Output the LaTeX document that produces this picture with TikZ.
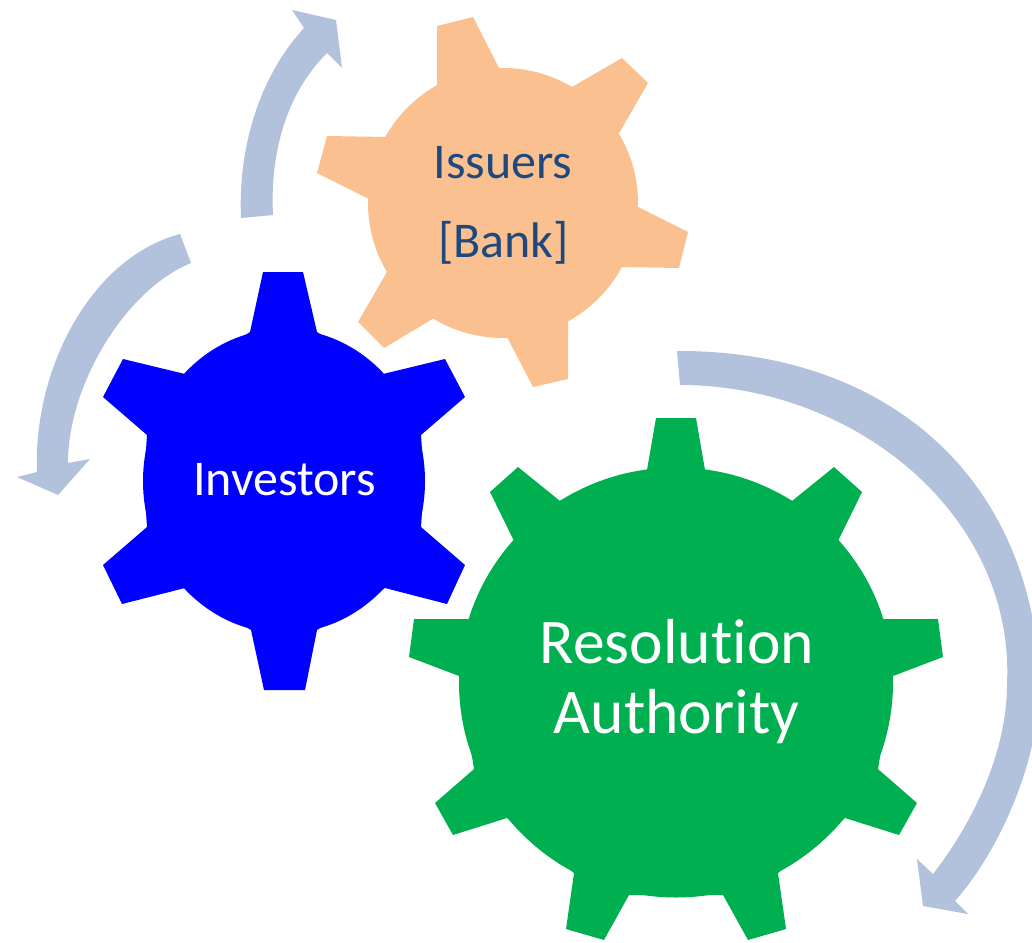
\documentclass[tikz,border=0pt]{standalone}
\usepackage{fontspec}
\setmainfont{Carlito}[Ligatures=NoCommon]
\definecolor{arrowblue}{HTML}{B3C2DC}
\definecolor{gearorange}{HTML}{FAC090}
\definecolor{gearblue}{HTML}{0000FF}
\definecolor{geargreen}{HTML}{00B050}
\definecolor{inktext}{HTML}{1F497D}
\tikzset{
  flow/.style={fill=arrowblue},
  label/.style={anchor=base,inner sep=0pt},
  small label/.style={label,font=\fontsize{25}{30}\selectfont},
  big label/.style={label,font=\fontsize{31.8}{38}\selectfont}
}
\begin{document}
\begin{tikzpicture}[x=0.5pt,y=-0.5pt]
\clip (0,0) rectangle (1032,942);
% rotating arrows
\fill[flow] (241,218) .. controls (238,150) and (258,78) .. (304,28)
  -- (292,10) -- (336,20) -- (342,68) -- (327,53)
  .. controls (285,95) and (270,155) .. (273,215) -- cycle;
\fill[flow] (180,234) .. controls (90,258) and (33,370) .. (37,472)
  -- (17,477) -- (58,495) -- (90,459) -- (68,463)
  .. controls (68,385) and (125,290) .. (191,263) -- cycle;
\fill[flow] (677,351) .. controls (880,350) and (1030,470) .. (1040,680)
  .. controls (1040,760) and (1000,850) .. (955,901)
  -- (968,914) -- (923,906) -- (917,859) -- (933,874)
  .. controls (975,820) and (1007,750) .. (1007,684)
  .. controls (1015,515) and (855,385) .. (680,385) -- cycle;
% orange gear
\fill[gearorange] (503,203) circle [radius=135];
\fill[gearorange] (437,26) -- (473,17) -- (499,68) -- (572,87) -- (622,58) -- (648,83) -- (618,135)
  -- (636,206) -- (688,232) -- (679,268) -- (619,267) -- (568,320) -- (568,379) -- (533,387) -- (507,337)
  -- (434,318) -- (384,348) -- (358,322) -- (388,270) -- (369,199) -- (317,173) -- (327,136) -- (387,137)
  -- (437,85) -- cycle;
% blue gear
\fill[gearblue] (284,481) ellipse [x radius=141,y radius=152];
\fill[gearblue] (263,272) -- (303,272) -- (317,332) -- (383,374) -- (445,359) -- (465,397) -- (421,435) -- (424,481)
  -- (421,527) -- (465,565) -- (447,604) -- (385,588) -- (317,630) -- (305,690) -- (264,690) -- (251,630)
  -- (185,588) -- (122,604) -- (103,565) -- (147,527) -- (144,481) -- (147,435) -- (103,397) -- (123,359) -- (185,374)
  -- (250,332) -- cycle;
% green gear
\fill[geargreen] (676,682.5) ellipse [x radius=217,y radius=215];
\fill[geargreen] (656,418) -- (696,418) -- (705,470) -- (792,501) -- (834,467) -- (862,492) -- (838,541)
  -- (881,619) -- (938,619) -- (943,657) -- (893,676) -- (878,769) -- (917,803) -- (899,835) -- (845,818)
  -- (778,873) -- (786,929) -- (748,940) -- (723,895) -- (629,895) -- (604,940) -- (566,929) -- (574,873)
  -- (507,818) -- (453,835) -- (435,803) -- (474,769) -- (459,676) -- (409,657) -- (414,619) -- (471,619)
  -- (514,541) -- (490,492) -- (518,467) -- (560,501) -- (647,470) -- cycle;
% labels
\node[small label,text=inktext] (issuers) at (503,178) {Issuers};
\node[small label,text=inktext] (bank) at (503.5,257) {[Bank]};
\node[small label,text=white] (investors) at (284.5,495) {Investors};
\node[big label,text=white] (resolution) at (677,663) {Resolution};
\node[big label,text=white] (authority) at (676.5,733) {Authority};
\end{tikzpicture}
\end{document}
